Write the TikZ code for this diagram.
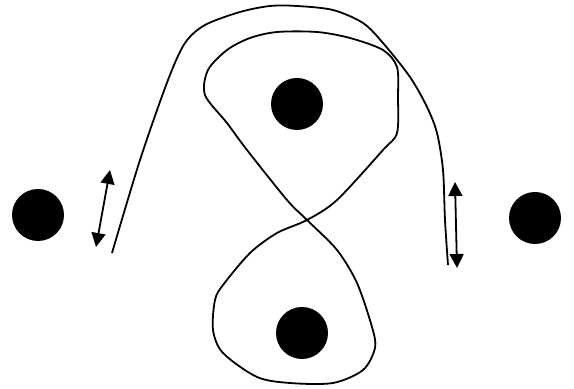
\documentclass[tikz,border=0pt]{standalone}
\usetikzlibrary{arrows.meta}
\begin{document}
\begin{tikzpicture}[x=0.5pt, y=-0.5pt,
    dot/.style={circle, fill=black, inner sep=0pt, minimum size=26pt},
    wire/.style={line width=0.9pt, line join=round},
    twoway/.style={line width=0.9pt, {Triangle[width=7pt,length=7pt]}-{Triangle[width=7pt,length=7pt]}}
]
\useasboundingbox (0,0) rectangle (574,389);

% the four bodies
\node[dot] (left) at (38,215) {};
\node[dot] (top) at (297,104) {};
\node[dot] (right) at (535,218) {};
\node[dot] (bottom) at (302,333) {};

% figure-eight orbit round top and bottom
\draw[wire] plot[smooth cycle, tension=0.5] coordinates {
    (307,220) (337,250) (357,283) (372,327) (375,348) (363,370) (333,383)
    (290,383) (257,377) (223,353) (213,330) (215,300) (223,285) (250,253)
    (277,233) (307,220) (337,200) (383,150) (397,133) (398,97) (397,67)
    (383,50) (350,38) (317,32) (277,32) (250,38) (227,50) (208,70)
    (205,95) (227,123) (247,150) (287,200)};

% outer arc
\draw[wire] plot[smooth, tension=0.5] coordinates {
    (112,253) (140,160) (168,80) (185,43) (205,25)
    (240,12) (270,6) (297,6) (333,10) (363,23) (383,43) (410,77)
    (427,107) (437,133) (443,170) (445,220) (448,265)};

% double arrows
\coordinate (lup) at (110,170);
\coordinate (ldown) at (96,247);
\coordinate (rup) at (455,182);
\coordinate (rdown) at (457,268);
\draw[twoway] (lup) -- (ldown);
\draw[twoway] (rup) -- (rdown);

\end{tikzpicture}
\end{document}
